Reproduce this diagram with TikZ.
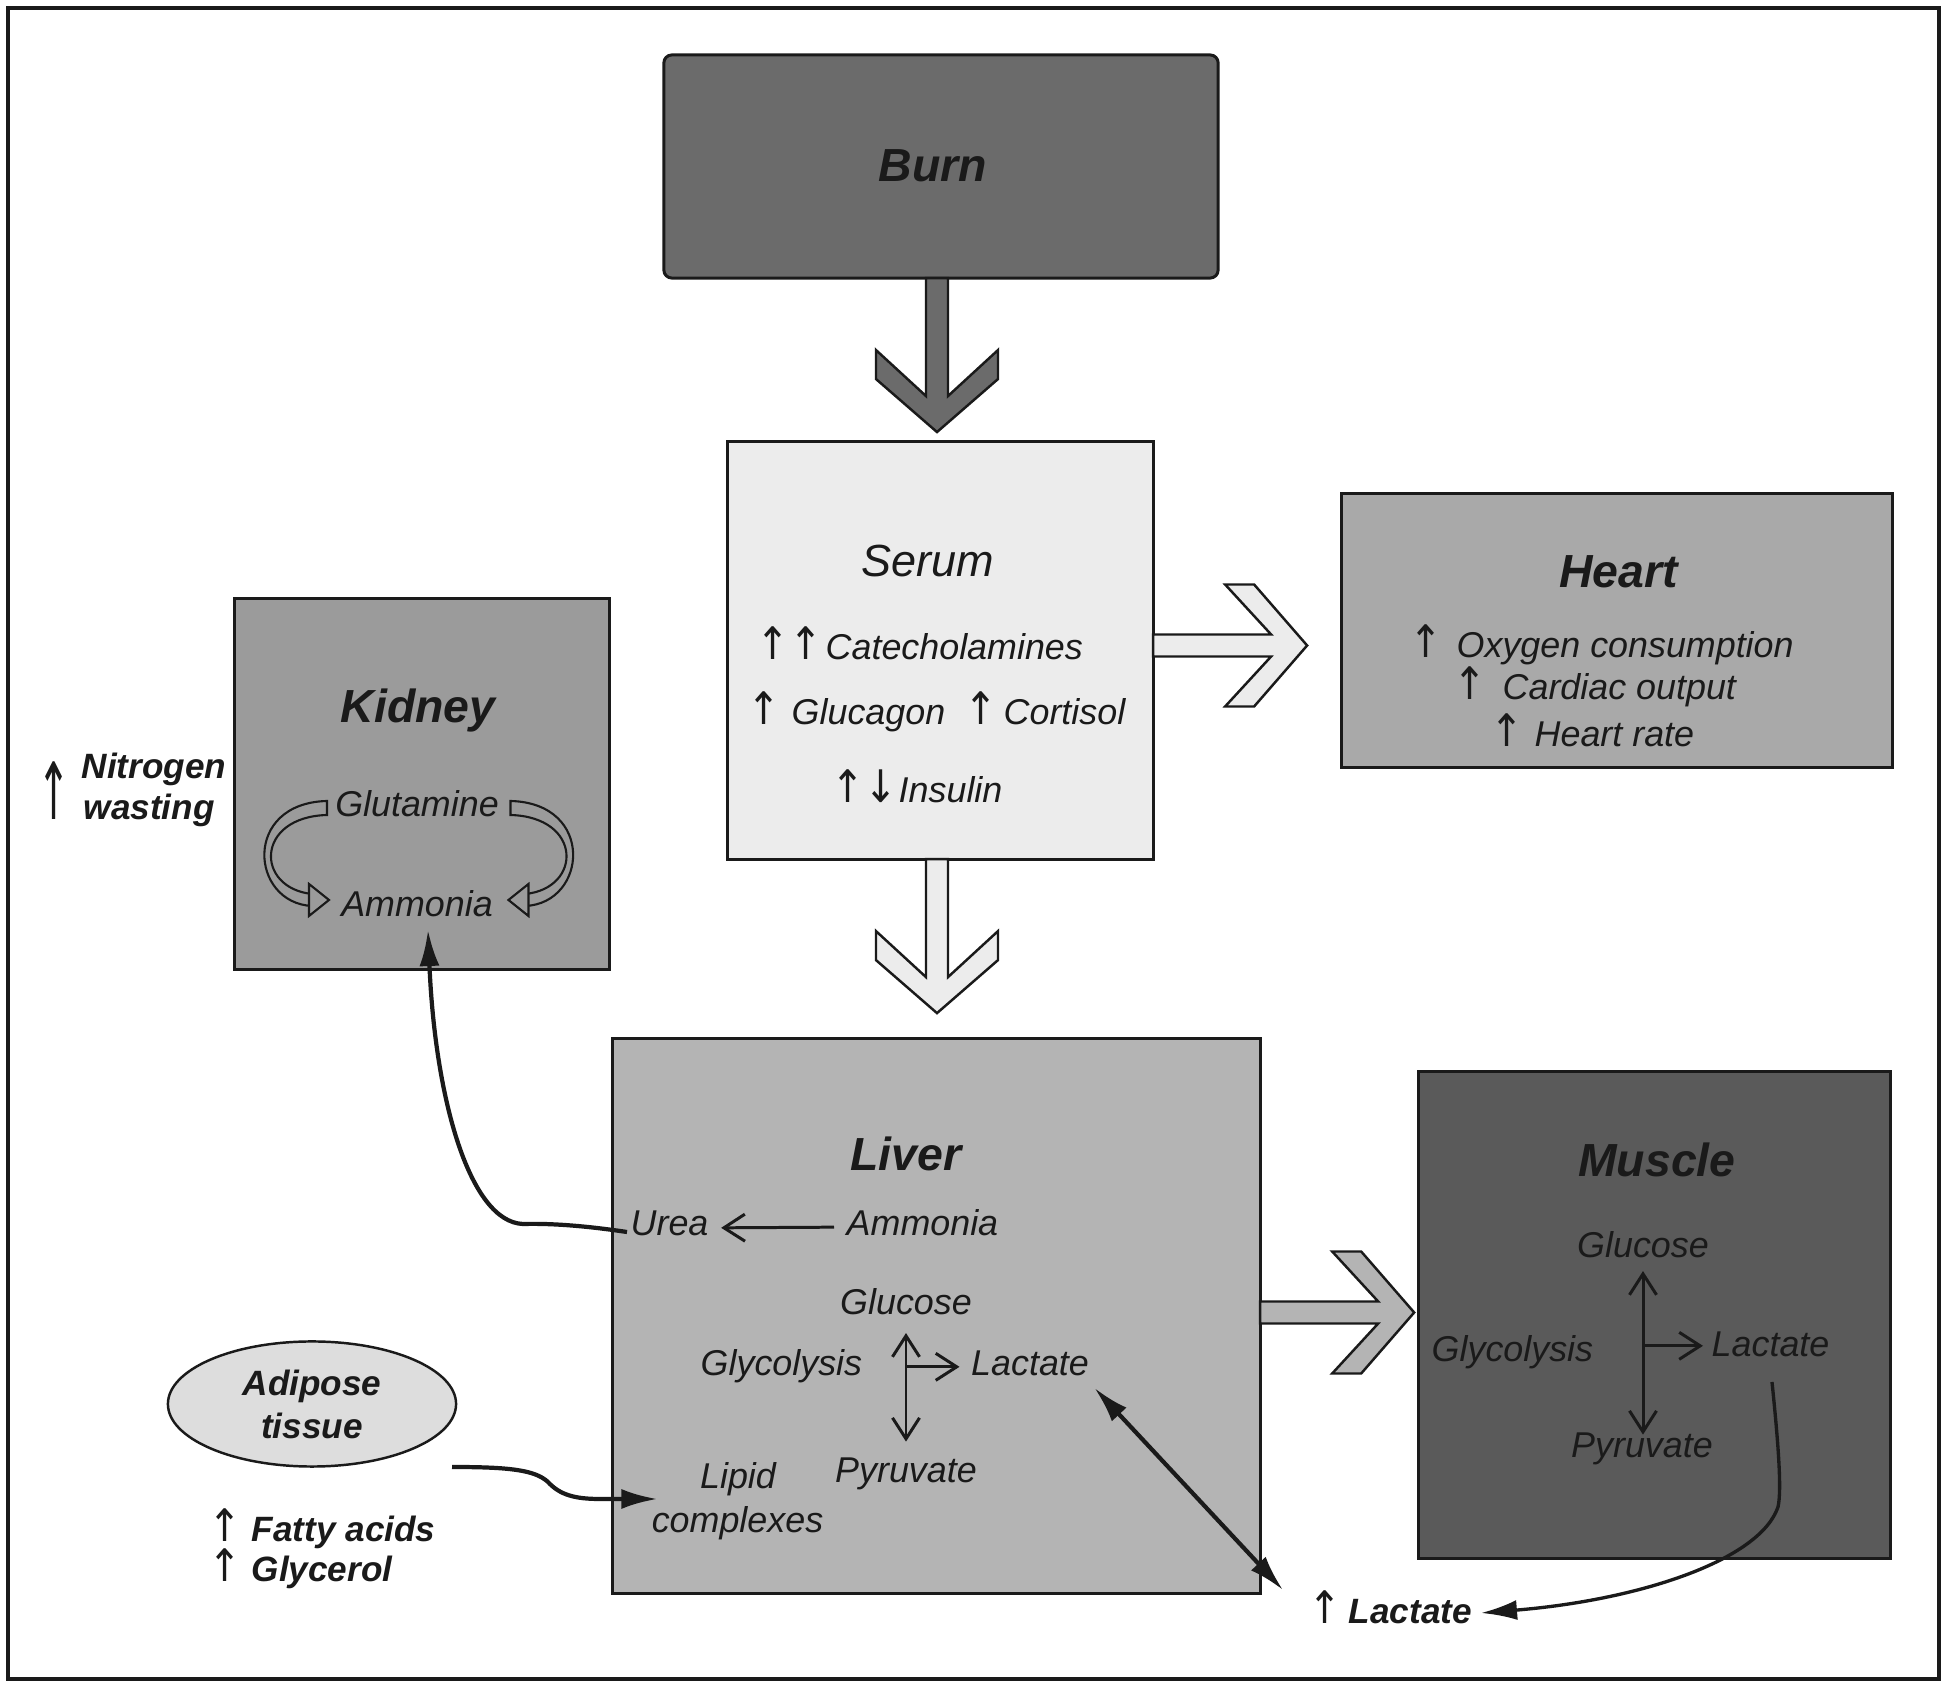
\documentclass[tikz,border=0pt]{standalone}
\usepackage{fontspec}
\setmainfont{Liberation Sans}
\newfontfamily\arrowfont{DejaVu Sans}
\usetikzlibrary{arrows.meta,shapes.geometric,calc}
\definecolor{ink}{HTML}{1A1A1A}
\definecolor{burnfill}{HTML}{6B6B6B}
\definecolor{serumfill}{HTML}{ECECEC}
\definecolor{heartfill}{HTML}{A9A9A9}
\definecolor{kidneyfill}{HTML}{9B9B9B}
\definecolor{liverfill}{HTML}{B4B4B4}
\definecolor{musclefill}{HTML}{5A5A5A}
\definecolor{adiposefill}{HTML}{DDDDDD}
\newcommand{\hdfont}{\fontsize{13.2}{16}\selectfont\bfseries\itshape}
\newcommand{\serfont}{\fontsize{12.8}{15}\selectfont\itshape}
\newcommand{\bdfont}{\fontsize{10.2}{12}\selectfont\itshape}
\newcommand{\bbfont}{\fontsize{10}{12.2}\selectfont\bfseries\itshape}
\newcommand{\arfont}{\fontsize{10.2}{12}\selectfont\arrowfont}
\newcommand{\upa}{\scalebox{1.1}[1.25]{↑}}
\newcommand{\dna}{\scalebox{1.1}[1.25]{↓}}
\newcommand{\blockarrow}[2]{\draw[draw=ink, line width=0.7pt, fill=#1, #2] (0,-11) -- (118,-11) -- (72,-61) -- (101,-61) -- (154,0) -- (101,61) -- (72,61) -- (118,11) -- (0,11) -- cycle;}
\tikzset{
  box/.style={draw=ink, line width=0.85pt, rectangle, inner sep=0pt, outer sep=0pt},
  hd/.style={inner sep=0pt, text=ink, font=\hdfont, anchor=base},
  lbl/.style={inner sep=0pt, text=ink, font=\bdfont, anchor=base west},
  lblc/.style={inner sep=0pt, text=ink, font=\bdfont, anchor=base},
  blbl/.style={inner sep=0pt, text=ink, font=\bbfont, anchor=base west},
  arr/.style={inner sep=0pt, text=ink, font=\arfont, anchor=base west},
  thinconn/.style={draw=ink, line width=0.85pt},
  thickconn/.style={draw=ink, line width=1.2pt},
  barb/.tip={Straight Barb[length=2.1mm,width=2.7mm]},
  bighead/.tip={Latex[length=3.6mm,width=2mm]},
  ribbon/.style={draw=ink, line width=0.6pt, fill=kidneyfill}
}
\begin{document}
\begin{tikzpicture}[x=0.01cm,y=-0.01cm]
\useasboundingbox (0,0) rectangle (1950,1689);
\draw[draw=ink, line width=0.04cm] (8,8.5) rectangle (1939,1679);

% boxes
\node[box, fill=burnfill, rounded corners=0.08cm, minimum width=5.54cm, minimum height=2.23cm] (burn) at (941,166.5) {};
\node[box, fill=serumfill, minimum width=4.25cm, minimum height=4.17cm] (serum) at (940.5,650.5) {};
\node[box, fill=heartfill, minimum width=5.50cm, minimum height=2.73cm] (heart) at (1617,630.5) {};
\node[box, fill=kidneyfill, minimum width=3.74cm, minimum height=3.70cm] (kidney) at (422,784) {};
\node[box, fill=liverfill, minimum width=6.47cm, minimum height=5.54cm] (liver) at (936.5,1316) {};
\node[box, fill=musclefill, minimum width=4.71cm, minimum height=4.86cm] (muscle) at (1654.5,1315) {};
\node[ellipse, draw=ink, line width=0.7pt, fill=adiposefill, inner sep=0pt, minimum width=2.88cm, minimum height=1.25cm, align=center, text=ink, font=\bbfont, execute at begin node={\setlength{\baselineskip}{12.2pt}}] (adi) at (312,1404) {Adipose\\tissue};

% block arrows
\blockarrow{burnfill}{shift={($(burn.south)+(-4,0)$)}, rotate=-90}
\blockarrow{serumfill}{shift={($(serum.south)+(-3.5,0)$)}, rotate=-90}
\blockarrow{serumfill}{shift={($(serum.east)+(0,-5)$)}}
\blockarrow{liverfill}{shift={($(liver.east)+(0,-3.5)$)}}

% Burn
\node[hd] (burnT) at (933,182) {Burn};

% Serum
\node[inner sep=0pt, text=ink, font=\serfont, anchor=base] (serumT) at (928,577) {Serum};
\node[arr] (catA) at (756,660) {\upa\upa};
\node[lbl] (catT) at (825,660) {Catecholamines};
\node[arr] (glcA) at (747,725) {\upa};
\node[lbl] (glcT) at (791,725) {Glucagon};
\node[arr] (corA) at (964,725) {\upa};
\node[lbl] (corT) at (1003,725) {Cortisol};
\node[arr] (insA) at (831,803) {\upa\dna};
\node[lbl] (insT) at (898,803) {Insulin};

% Heart
\node[hd] (heartT) at (1618.5,588) {Heart};
\node[arr] (oxA) at (1409,658) {\upa};
\node[lbl] (oxT) at (1456,658) {Oxygen consumption};
\node[arr] (coA) at (1453,700) {\upa};
\node[lbl] (coT) at (1502,700) {Cardiac output};
\node[arr] (hrA) at (1490,747) {\upa};
\node[lbl] (hrT) at (1534,747) {Heart rate};

% Kidney
\node[hd] (kidT) at (418,723) {Kidney};
\node[lblc] (kglu) at (417,817) {Glutamine};
\node[lblc] (kamm) at (417,917) {Ammonia};
\node[arr, anchor=base] (nitA) at (54,820) {\scalebox{1.1}[2.2]{↑}};
\node[blbl] (nitT1) at (81,779) {Nitrogen};
\node[blbl] (nitT2) at (83,820) {wasting};

% kidney ribbons
\draw[ribbon] (327,801) .. controls (242,803) and (250,903) .. (312,906) -- (312,894) .. controls (255,888) and (255,817) .. (327,815) -- cycle;
\draw[ribbon] (309,884) -- (329,900) -- (309,916) -- cycle;
\begin{scope}[xshift=8.37cm, xscale=-1]
\draw[ribbon] (327,801) .. controls (242,803) and (250,903) .. (312,906) -- (312,894) .. controls (255,888) and (255,817) .. (327,815) -- cycle;
\draw[ribbon] (309,884) -- (329,900) -- (309,916) -- cycle;
\end{scope}

% Liver
\node[hd] (livT) at (906,1171) {Liver};
\node[lbl] (urea) at (630,1236) {Urea};
\node[lbl] (lamm) at (846,1236) {Ammonia};
\node[lblc] (lglu) at (906,1315) {Glucose};
\node[lbl] (lgly) at (700,1376) {Glycolysis};
\node[lbl] (llac) at (970.5,1376) {Lactate};
\node[lblc] (lpyr) at (906,1483) {Pyruvate};
\node[lblc] (lipid) at (738,1489) {Lipid};
\node[lblc] (lcplx) at (737.5,1533) {complexes};

\draw[thinconn, -barb] ($(lamm.west)+(-12,4)$) -- ($(urea.east)+(12,4)$);
\draw[thinconn, barb-barb] ($(lglu.south)+(0,17)$) -- ($(lglu.south |- lpyr.north)+(0,-16)$);
\draw[thinconn, -barb] ($(lglu.south |- llac.west)+(0,3)$) -- ($(llac.west)+(-11,3)$);

% Muscle
\node[hd] (musT) at (1657,1177) {Muscle};
\node[lblc] (mglu) at (1643,1258) {Glucose};
\node[lbl] (mlac) at (1711,1357) {Lactate};
\node[lbl] (mgly) at (1431,1362) {Glycolysis};
\node[lblc] (mpyr) at (1642,1458) {Pyruvate};
\draw[thinconn, barb-barb] ($(mglu.south)+(0,12)$) -- ($(mglu.south |- mpyr.north)+(0,2)$);
\draw[thinconn, -barb] ($(mglu.south |- mlac.west)+(0,1)$) -- ($(mlac.west)+(-8,1)$);

% bottom lactate
\node[arr] (blA) at (1308,1624) {\upa};
\node[blbl] (blT) at (1348,1624) {Lactate};

% adipose labels
\node[arr] (faA) at (208,1542) {\upa};
\node[blbl] (faT) at (251,1542) {Fatty acids};
\node[arr] (glA) at (208,1582) {\upa};
\node[blbl] (glT) at (251,1582) {Glycerol};

% thick connectors
\draw[thickconn, -bighead] ($(urea.base west)+(-3,-4)$) .. controls (600,1228) and (560,1223) .. (523,1224) .. controls (470,1222) and (435,1100) .. ($(kamm.base)+(11,13)$);
\draw[thickconn, -bighead] ($(adi.center)+(140,63)$) .. controls (510,1467) and (535,1470) .. (548,1482) .. controls (560,1495) and (575,1499) .. (600,1499) -- ($(lipid.base west)+(-42,10)$);
\draw[thickconn, bighead-bighead] ($(llac.south east)+(5,11)$) -- ($(blT.base west)+(-65,-34)$);
\draw[draw=ink, line width=0.95pt, -bighead] ($(mlac.base west)+(61,25)$) .. controls (1778,1440) and (1782,1490) .. (1778,1507) .. controls (1760,1560) and (1640,1600) .. ($(blT.base west)+(133,-11)$);
\end{tikzpicture}
\end{document}
